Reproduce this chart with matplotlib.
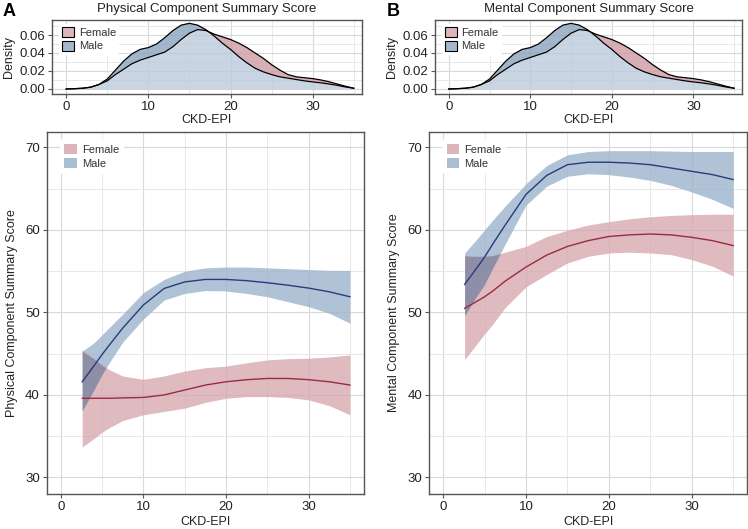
import numpy as np
import matplotlib
matplotlib.use("Agg")
import matplotlib.pyplot as plt
from matplotlib.patches import Patch

plt.rcParams['font.family'] = ['Liberation Sans', 'DejaVu Sans']

# ---- density of CKD-EPI (same in both panels)
dens_x = np.arange(0, 36)
dens_male = [0.000, 0.0003, 0.0008, 0.002, 0.005, 0.011, 0.021, 0.031, 0.039, 0.044,
             0.046, 0.050, 0.057, 0.065, 0.071, 0.073, 0.071, 0.066, 0.059, 0.051,
             0.044, 0.036, 0.029, 0.023, 0.019, 0.016, 0.0135, 0.012, 0.0105, 0.009,
             0.0078, 0.0068, 0.0055, 0.004, 0.0022, 0.0008]
dens_female = [0.000, 0.0003, 0.0008, 0.002, 0.005, 0.009, 0.016, 0.022, 0.028, 0.032,
               0.035, 0.038, 0.041, 0.047, 0.055, 0.062, 0.066, 0.065, 0.061, 0.058,
               0.055, 0.051, 0.046, 0.040, 0.034, 0.027, 0.021, 0.016, 0.0135, 0.0125,
               0.0115, 0.010, 0.008, 0.0055, 0.003, 0.0008]

# ---- smoothed scores vs CKD-EPI
fit_x = [2.6, 4, 5, 6, 7.5, 10, 12.5, 15, 17.5, 20, 22.5, 25, 27.5, 30, 32.5, 35]

pcs_male = [41.6, 43.5, 44.9, 46.2, 48.1, 50.9, 52.9, 53.7, 54.0, 54.0, 53.85, 53.6, 53.3, 52.95, 52.5, 51.9]
pcs_male_hi = [45.3, 46.3, 47.3, 48.3, 49.8, 52.4, 54.0, 55.0, 55.4, 55.5, 55.5, 55.4, 55.3, 55.2, 55.1, 55.1]
pcs_male_lo = [38.1, 40.6, 42.5, 44.1, 46.4, 49.2, 51.5, 52.3, 52.65, 52.6, 52.3, 51.9, 51.3, 50.7, 49.9, 48.7]
pcs_female = [39.6, 39.6, 39.6, 39.6, 39.65, 39.7, 40.0, 40.6, 41.2, 41.6, 41.85, 42.0, 42.0, 41.85, 41.6, 41.2]
pcs_female_hi = [45.5, 44.4, 43.6, 43.0, 42.3, 41.9, 42.3, 42.9, 43.3, 43.5, 43.9, 44.25, 44.4, 44.45, 44.6, 44.85]
pcs_female_lo = [33.7, 34.7, 35.5, 36.1, 36.9, 37.6, 38.0, 38.4, 39.1, 39.6, 39.8, 39.8, 39.7, 39.4, 38.7, 37.6]

mcs_male = [53.4, 55.3, 56.7, 58.3, 60.6, 64.3, 66.6, 67.9, 68.2, 68.2, 68.1, 67.9, 67.5, 67.1, 66.7, 66.1]
mcs_male_hi = [57.2, 58.8, 60.0, 61.2, 62.9, 65.6, 67.8, 69.1, 69.5, 69.6, 69.6, 69.6, 69.55, 69.5, 69.5, 69.5]
mcs_male_lo = [49.6, 51.9, 53.4, 55.4, 58.3, 63.0, 65.3, 66.5, 66.8, 66.7, 66.4, 66.0, 65.4, 64.6, 63.7, 62.6]
mcs_female = [50.5, 51.3, 51.9, 52.6, 53.8, 55.5, 56.95, 58.0, 58.7, 59.2, 59.4, 59.5, 59.4, 59.1, 58.7, 58.1]
mcs_female_hi = [56.85, 56.8, 56.8, 56.9, 57.3, 58.0, 59.2, 59.95, 60.6, 61.0, 61.35, 61.6, 61.75, 61.85, 61.9, 61.9]
mcs_female_lo = [44.3, 46.1, 47.4, 48.6, 50.6, 53.1, 54.6, 56.0, 56.8, 57.2, 57.3, 57.2, 57.0, 56.4, 55.6, 54.4]

W, H = 748, 529
fig = plt.figure(figsize=(W / 100, H / 100), dpi=100)


def box(l, t, r, b):
    return [l / W, 1 - b / H, (r - l) / W, (b - t) / H]


spine_col = '#555555'
tick_col = '#222222'


def style(ax):
    for s in ax.spines.values():
        s.set_color(spine_col)
        s.set_linewidth(1.0)
    ax.tick_params(which='both', length=3, width=0.8, color=spine_col, labelsize=9.5,
                   labelcolor=tick_col, pad=2)
    ax.tick_params(which='minor', length=0)
    ax.grid(True, which='major', color='#d9d9d9', lw=0.8, zorder=0)
    ax.grid(True, which='minor', color='#e8e8e8', lw=0.7, zorder=0)
    ax.set_axisbelow(True)


def density_panel(ax, title):
    m = np.array(dens_male)
    f = np.array(dens_female)
    both = np.minimum(m, f)
    ax.fill_between(dens_x, 0, both, color='#BCCBDB', alpha=0.8, lw=0, zorder=2)
    ax.fill_between(dens_x, f, m, where=m >= f, interpolate=True, color='#8AA3BE', alpha=0.8, lw=0, zorder=2)
    ax.fill_between(dens_x, m, f, where=f >= m, interpolate=True, color='#CF9BA4', alpha=0.8, lw=0, zorder=2)
    ax.plot(dens_x, m, color='black', lw=0.9, zorder=3)
    ax.plot(dens_x, f, color='black', lw=0.9, zorder=3)
    ax.set_xlim(-1.72, 36.0)
    ax.set_ylim(-0.0056, 0.0767)
    ax.set_xticks([0, 10, 20, 30])
    ax.set_xticks([5, 15, 25, 35], minor=True)
    ax.set_yticks([0, 0.02, 0.04, 0.06])
    ax.set_yticks([0.01, 0.03, 0.05, 0.07], minor=True)
    ax.set_yticklabels(['0.00', '0.02', '0.04', '0.06'])
    style(ax)
    ax.set_xlabel('CKD-EPI', fontsize=9, color='#222222', labelpad=1)
    ax.set_ylabel('Density', fontsize=9, color='#222222', labelpad=3)
    ax.set_title(title, fontsize=9.5, color='#222222', pad=6)
    handles = [Patch(facecolor='#DDB5BB', edgecolor='black', lw=0.8, label='Female'),
               Patch(facecolor='#A5B8CD', edgecolor='black', lw=0.8, label='Male')]
    leg = ax.legend(handles=handles, loc='upper left', bbox_to_anchor=(0.015, 0.98), fontsize=8,
                    frameon=True, facecolor='white', edgecolor='none', framealpha=1,
                    handlelength=1.1, handleheight=1.0, handletextpad=0.4, labelspacing=0.25,
                    borderpad=0.3, borderaxespad=0.2)
    for t in leg.get_texts():
        t.set_color('#333333')
    leg.set_zorder(5)


def fit_panel(ax, ylab, m, mlo, mhi, f, flo, fhi):
    x = np.array(fit_x)
    mlo, mhi, flo, fhi = map(np.array, (mlo, mhi, flo, fhi))
    ax.fill_between(x, mlo, mhi, color='#9AB2CB', alpha=0.78, lw=0, zorder=2)
    ax.fill_between(x, flo, fhi, color='#D6A8AF', alpha=0.78, lw=0, zorder=2)
    lo = np.maximum(mlo, flo)
    hi = np.minimum(mhi, fhi)
    ax.fill_between(x, lo, hi, where=hi > lo, interpolate=True, color='#8E8FA6', lw=0, zorder=2)
    ax.plot(x, m, color='#2A3A7C', lw=1.0, zorder=3)
    ax.plot(x, f, color='#9E2A3E', lw=1.0, zorder=3)
    ax.set_xlim(-1.7, 36.7)
    ax.set_ylim(28.0, 71.9)
    ax.set_xticks([0, 10, 20, 30])
    ax.set_xticks([5, 15, 25, 35], minor=True)
    ax.set_yticks([30, 40, 50, 60, 70])
    ax.set_yticks([35, 45, 55, 65], minor=True)
    style(ax)
    ax.set_xlabel('CKD-EPI', fontsize=9, color='#222222', labelpad=2)
    ax.set_ylabel(ylab, fontsize=9, color='#222222', labelpad=5)
    handles = [Patch(facecolor='#DCB5BB', edgecolor='none', label='Female'),
               Patch(facecolor='#A9BED3', edgecolor='none', label='Male')]
    leg = ax.legend(handles=handles, loc='upper left', bbox_to_anchor=(0.035, 0.985), fontsize=8,
                    frameon=True, facecolor='white', edgecolor='none', framealpha=1,
                    handlelength=1.1, handleheight=1.0, handletextpad=0.5, labelspacing=0.35,
                    borderpad=0.4, borderaxespad=0.2)
    for t in leg.get_texts():
        t.set_color('#333333')


axA1 = fig.add_axes(box(52, 20, 362, 94))
axB1 = fig.add_axes(box(434.7, 20, 742.3, 94))
axA2 = fig.add_axes(box(46.7, 131.7, 364, 494))
axB2 = fig.add_axes(box(429, 131.7, 747.3, 494))

density_panel(axA1, 'Physical Component Summary Score')
density_panel(axB1, 'Mental Component Summary Score')
fit_panel(axA2, 'Physical Component Summary Score',
          pcs_male, pcs_male_lo, pcs_male_hi, pcs_female, pcs_female_lo, pcs_female_hi)
fit_panel(axB2, 'Mental Component Summary Score',
          mcs_male, mcs_male_lo, mcs_male_hi, mcs_female, mcs_female_lo, mcs_female_hi)

# panel letters
fig.text(3 / W, 1 - 16 / H, 'A', fontsize=13, fontweight='bold', ha='left', va='baseline')
fig.text(387 / W, 1 - 16 / H, 'B', fontsize=13, fontweight='bold', ha='left', va='baseline')

fig.savefig('out.png', dpi=100)
